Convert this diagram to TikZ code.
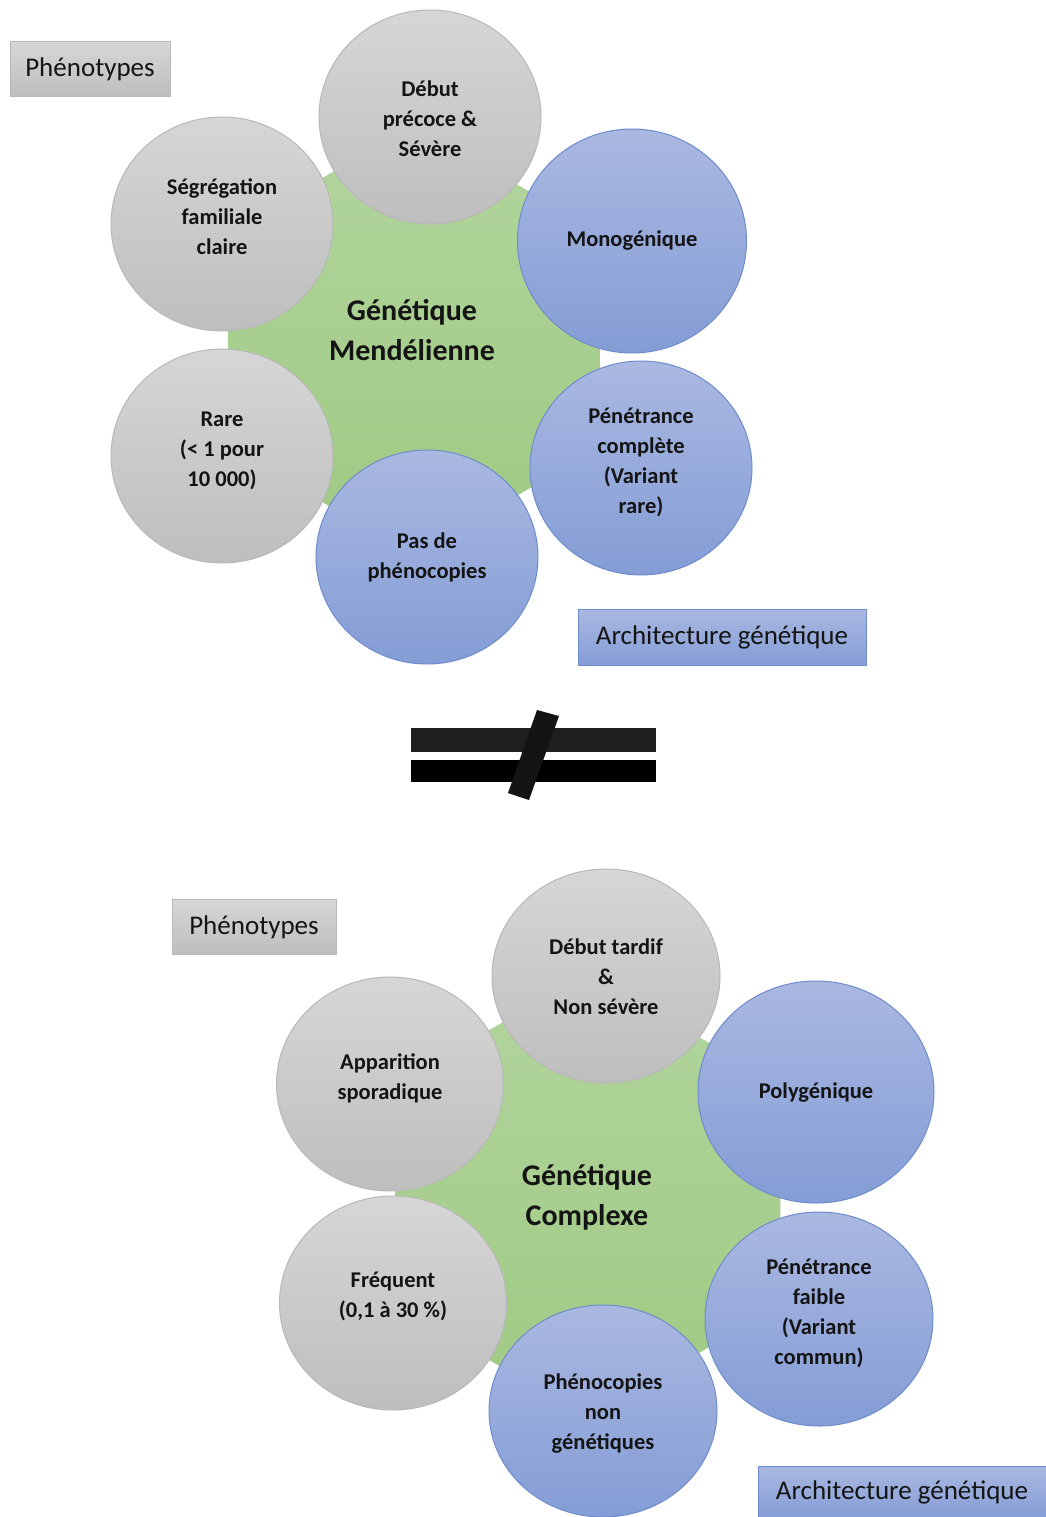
\documentclass[tikz,border=0pt]{standalone}
\usepackage{fontspec}
\setmainfont{Carlito}
\usetikzlibrary{shapes.geometric,calc}
\definecolor{grayT}{RGB}{214,214,214}
\definecolor{grayB}{RGB}{190,190,190}
\definecolor{grayL}{RGB}{184,184,184}
\definecolor{blueT}{RGB}{170,184,225}
\definecolor{blueB}{RGB}{132,157,214}
\definecolor{blueL}{RGB}{110,140,204}
\definecolor{greenT}{RGB}{178,213,157}
\definecolor{greenB}{RGB}{158,201,130}
\definecolor{ink}{RGB}{20,20,20}
% texte d'une bulle, remonte de #1
\newcommand{\lignes}[2][5.5pt]{\raisebox{#1}[\height][\depth]{\begin{tabular}{@{}c@{}}#2\end{tabular}}}
\tikzset{
  bulle/.style={ellipse, inner sep=0pt, line width=1pt, text=ink,
    minimum width=222pt, minimum height=214pt,
    font=\bfseries\fontsize{22.5}{30}\selectfont},
  pheno/.style={bulle, draw=grayL, top color=grayT, bottom color=grayB},
  archi/.style={bulle, draw=blueL, top color=blueT, bottom color=blueB},
  etiq/.style={rectangle, inner sep=0pt, line width=0.8pt, text=ink,
    font=\fontsize{27}{32}\selectfont},
  etiqP/.style={etiq, draw=grayL, top color=grayT, bottom color=grayB},
  etiqA/.style={etiq, draw=blueL, top color=blueT, bottom color=blueB},
  centre/.style={align=center, text=ink, font=\bfseries\fontsize{30}{40}\selectfont},
}
\begin{document}
\begin{tikzpicture}[x=1pt,y=-1pt]
\useasboundingbox (0,0) rectangle (1046,1517);
\fill[white] (0,0) rectangle (1046,1517);

% genetique mendelienne
\coordinate (hexM) at (414,340);
\pgfmathsetmacro{\R}{215}
\shade[top color=greenT, bottom color=greenB] ($(hexM)+(90:\R)$)
  \foreach \a in {150,210,...,390} {-- ($(hexM)+(\a:\R)$)} -- cycle;
\node[centre] (genM) at (412,330) {Génétique\\Mendélienne};

\node[pheno] (debutM) at (430,117) {\lignes[-4pt]{Début\\précoce \&\\Sévère}};
\node[pheno] (segM) at (222,224) {\lignes{Ségrégation\\familiale\\claire}};
\node[pheno] (rareM) at (222,456) {\lignes[6pt]{Rare\\(< 1 pour\\10 000)}};
\node[archi, minimum width=229pt, minimum height=224pt] (monoM) at (632,241) {Monogénique};
\node[archi] (penM) at (641,468) {\lignes{Pénétrance\\complète\\(Variant\\rare)}};
\node[archi] (pasM) at (427,557) {\lignes[0pt]{Pas de\\phénocopies}};

\node[etiqP, minimum width=160pt, minimum height=55pt] (phenM) at (90,69) {Phénotypes};
\node[etiqA, minimum width=288pt, minimum height=56pt] (archM) at (722,637) {Architecture génétique};

% signe different
\fill[black!88] (411,728) rectangle (656,752);
\fill[black] (411,760) rectangle (656,782);
\fill[black!92] (537,710) -- (559,716) -- (529,800) -- (508,793) -- cycle;

% genetique complexe
\coordinate (hexC) at (588,1195);
\pgfmathsetmacro{\R}{222}
\shade[top color=greenT, bottom color=greenB] ($(hexC)+(90:\R)$)
  \foreach \a in {150,210,...,390} {-- ($(hexC)+(\a:\R)$)} -- cycle;
\node[centre] (genC) at (587,1197) {Génétique\\Complexe};

\node[pheno, minimum width=228pt] (debutC) at (606,976) {\lignes[-2pt]{Début tardif\\\&\\Non sévère}};
\node[pheno, minimum width=227pt] (appC) at (390,1084) {\lignes[6pt]{Apparition\\sporadique}};
\node[pheno, minimum width=227pt] (freqC) at (393,1303) {\lignes[6.5pt]{Fréquent\\(0,1 à 30 \%)}};
\node[archi, minimum width=236pt, minimum height=222pt] (polyC) at (816,1092) {Polygénique};
\node[archi, minimum width=228pt] (penC) at (819,1319) {\lignes[6pt]{Pénétrance\\faible\\(Variant\\commun)}};
\node[archi, minimum width=228pt, minimum height=212pt] (phenoC) at (603,1411) {\lignes[-2pt]{Phénocopies\\non\\génétiques}};

\node[etiqP, minimum width=164pt, minimum height=55pt] (phenC) at (254,927) {Phénotypes};
\node[etiqA, minimum width=288pt, minimum height=52pt] (archC) at (902,1492) {Architecture génétique};
\end{tikzpicture}
\end{document}
